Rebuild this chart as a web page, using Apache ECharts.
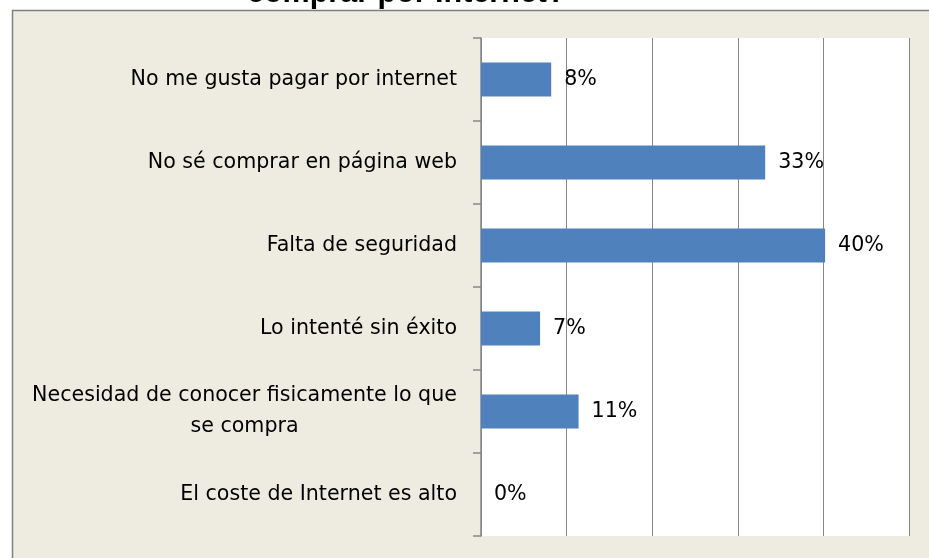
<!DOCTYPE html>
<html>
<head>
<meta charset="utf-8">
<script src="https://cdn.jsdelivr.net/npm/echarts@6/dist/echarts.min.js"></script>
<style>html,body{margin:0;padding:0;background:#fff;}#c{width:929px;height:558px;}</style>
</head>
<body>
<div id="c"></div>
<script>
var categories = [
  "No me gusta pagar por internet",
  "No sé comprar en página web",
  "Falta de seguridad",
  "Lo intenté sin éxito",
  "Necesidad de conocer fisicamente lo que\nse compra",
  "El coste de Internet es alto"
];
var values = [8.2, 33.2, 40.2, 6.9, 11.4, 0];
var xTicks = [0, 10, 20, 30, 40, 50];
var titleText = "comprar por Internet?";

var FONT = '"DejaVu Sans", sans-serif';
var FS = 20.6;
var ctx = document.createElement('canvas').getContext('2d');
ctx.font = FS + 'px ' + FONT;
function lineW(s) { return Math.ceil(ctx.measureText(s).width); }

var chart = echarts.init(document.getElementById('c'));
chart.setOption({
  backgroundColor: '#ffffff',
  animation: false,
  graphic: [
    {type:'text', left: 247, top: -22, z: -20, style:{text: titleText, font:'bold 30.5px "Liberation Sans", Arial', fill:'#000'}},
    {type:'rect', shape:{x:12.5, y:10.5, width:960, height:600}, z: -10, style:{fill:'#EEECE1', stroke:'#808080', lineWidth:1.5}}
  ],
  grid: {left: 481, right: 20, top: 38, bottom: 22, containLabel: false, show: true, backgroundColor: '#ffffff', borderWidth: 0, z: 1},
  xAxis: {
    type: 'value', min: xTicks[0], max: xTicks[xTicks.length-1], interval: 10, z: 5,
    axisLine: {show: false}, axisTick: {show: false}, axisLabel: {show: false},
    splitLine: {show: true, lineStyle: {color: '#868686', width: 1}}
  },
  yAxis: {
    type: 'category', data: categories, inverse: true, z: 5,
    axisLine: {show: true, lineStyle: {color: '#868686', width: 1.5}},
    axisTick: {show: true, length: 8, lineStyle: {color: '#868686', width: 1.5}},
    axisLabel: {
      margin: 24, color: '#000', fontSize: FS, fontFamily: FONT, lineHeight: 31,
      formatter: function (v) {
        if (v.indexOf('\n') >= 0) {
          var parts = v.split('\n');
          var w = Math.max.apply(null, parts.map(lineW));
          return parts.map(function (s) { return '{c' + w + '|' + s + '}'; }).join('\n');
        }
        return v;
      },
      rich: (function () {
        var r = {};
        categories.forEach(function (v) {
          if (v.indexOf('\n') >= 0) {
            var w = Math.max.apply(null, v.split('\n').map(lineW));
            r['c' + w] = {width: w, align: 'center', fontSize: FS, fontFamily: FONT, color: '#000', lineHeight: 31};
          }
        });
        return r;
      })()
    }
  },
  series: [{
    type: 'bar', data: values, barWidth: '41%', z: 6,
    itemStyle: {color: '#4F81BD'},
    label: {
      show: true, position: 'right', distance: 13, color: '#000', fontSize: FS,
      fontFamily: FONT,
      formatter: function (p) { return Math.round(p.value) + '%'; }
    }
  }]
});
</script>
</body>
</html>
